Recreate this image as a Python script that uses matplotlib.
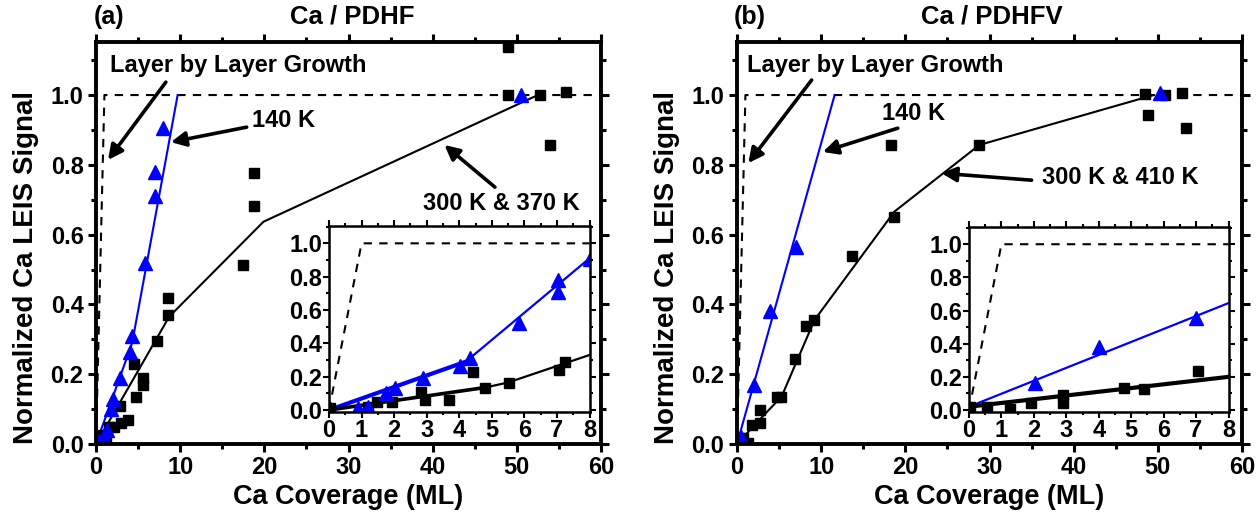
import matplotlib
matplotlib.use("Agg")
import matplotlib.pyplot as plt
from matplotlib.ticker import MultipleLocator, FormatStrFormatter

plt.rcParams["font.family"] = ["Liberation Sans", "DejaVu Sans"]
plt.rcParams["font.weight"] = "bold"

BLUE = "#0000ff"

# ---------------- Ca / PDHF ----------------
a_tri_x = [0.3, 0.9, 1.3, 1.74, 2.0, 2.9, 4.0, 4.3, 5.8, 7.0, 7.0, 8.0, 50.5]
a_tri_y = [0.01, 0.02, 0.04, 0.10, 0.13, 0.19, 0.265, 0.31, 0.52, 0.71, 0.78, 0.905, 1.0]
a_sq_x = [0.1, 0.8, 1.2, 1.5, 2.1, 2.9, 3.0, 3.8, 4.5, 4.8, 5.6, 5.6, 7.3, 8.6, 8.6,
          17.5, 18.8, 18.8, 48.9, 48.9, 52.7, 53.9, 55.9]
a_sq_y = [0.01, 0.025, 0.02, 0.05, 0.05, 0.11, 0.06, 0.07, 0.23, 0.134, 0.19, 0.168, 0.295,
          0.418, 0.37, 0.513, 0.682, 0.777, 1.0, 1.138, 1.0, 0.857, 1.01]
a_fit140_x = [0.0, 4.3, 9.7]
a_fit140_y = [0.0, 0.29, 1.0]
a_fitrt_x = [0.0, 8.7, 19.9, 52.5]
a_fitrt_y = [0.0, 0.365, 0.637, 1.0]

# inset of Ca / PDHF (0-8 ML)
ai_tri_x = [0.9, 1.2, 1.74, 2.02, 2.89, 4.02, 4.33, 5.82, 7.02, 7.02, 8.0]
ai_tri_y = [0.01, 0.02, 0.104, 0.13, 0.19, 0.264, 0.31, 0.52, 0.71, 0.78, 0.904]
ai_sq_x = [0.02, 1.2, 1.46, 1.95, 2.84, 2.94, 3.69, 4.41, 4.79, 5.54, 7.05, 7.25]
ai_sq_y = [0.01, 0.02, 0.05, 0.046, 0.11, 0.06, 0.06, 0.226, 0.134, 0.164, 0.24, 0.29]
ai_fit140_x = [0.0, 4.2, 8.0]
ai_fit140_y = [0.0, 0.29, 0.91]
ai_fitrt_x = [0.0, 4.8, 5.5, 8.0]
ai_fitrt_y = [0.0, 0.135, 0.165, 0.33]

# ---------------- Ca / PDHFV ----------------
b_tri_x = [0.5, 2.0, 3.9, 7.0, 50.2]
b_tri_y = [0.02, 0.169, 0.382, 0.565, 1.007]
b_sq_x = [0.3, 0.7, 1.26, 1.75, 2.7, 2.7, 4.7, 5.2, 6.9, 8.2, 9.2, 13.7, 18.65, 18.25,
          28.8, 48.5, 48.85, 50.8, 52.9, 53.4]
b_sq_y = [0.016, 0.017, 0.004, 0.054, 0.06, 0.097, 0.136, 0.136, 0.243, 0.338, 0.355,
          0.539, 0.651, 0.857, 0.857, 1.003, 0.943, 1.0, 1.005, 0.905]
b_fit140_x = [0.0, 11.6]
b_fit140_y = [0.0, 1.0]
b_fitrt_x = [0.0, 2.7, 5.3, 9.2, 18.7, 28.8, 49.5]
b_fitrt_y = [0.0, 0.07, 0.136, 0.355, 0.666, 0.857, 1.0]

# inset of Ca / PDHFV (0-8 ML)
bi_tri_x = [2.03, 4.02, 7.0]
bi_tri_y = [0.165, 0.378, 0.558]
bi_sq_x = [0.02, 0.54, 1.26, 1.9, 2.9, 2.9, 4.79, 5.4, 7.07]
bi_sq_y = [0.02, 0.016, 0.004, 0.044, 0.044, 0.09, 0.13, 0.125, 0.235]
bi_fit140_x = [0.0, 8.0]
bi_fit140_y = [0.02, 0.645]
bi_fitrt_x = [0.0, 8.0]
bi_fitrt_y = [0.02, 0.2]

# ideal layer-by-layer growth
lbl_x = [0.0, 1.0, 60.0]
lbl_y = [0.0, 1.0, 1.0]
lbl_inset_x = [0.0, 1.0, 8.0]
lbl_inset_y = [0.0, 1.0, 1.0]

W, H = 1260, 513
fig = plt.figure(figsize=(W / 100, H / 100), dpi=100)


def px_axes(x0, y0, x1, y1):
    return fig.add_axes([x0 / W, 1 - y1 / H, (x1 - x0) / W, (y1 - y0) / H])


def style_main(ax):
    ax.set_xlim(0, 60)
    ax.set_ylim(0, 1.152)
    ax.xaxis.set_major_locator(MultipleLocator(10))
    ax.xaxis.set_minor_locator(MultipleLocator(5))
    ax.yaxis.set_major_locator(MultipleLocator(0.2))
    ax.yaxis.set_minor_locator(MultipleLocator(0.1))
    ax.yaxis.set_major_formatter(FormatStrFormatter("%.1f"))
    for s in ax.spines.values():
        s.set_linewidth(2.8)
    ax.tick_params(which="both", direction="out", top=True, right=True,
                   labelsize=17, width=2.2, pad=3)
    ax.tick_params(which="major", length=6)
    ax.tick_params(which="minor", length=3.5)
    ax.set_xlabel("Ca Coverage (ML)", fontsize=19.5, fontweight="bold", labelpad=3)
    ax.set_ylabel("Normalized Ca LEIS Signal", fontsize=20, fontweight="bold")
    ax.yaxis.set_label_coords(-0.113, 0.44)


def style_inset(ax):
    ax.set_xlim(0, 8)
    ax.set_ylim(-0.012, 1.104)
    ax.xaxis.set_major_locator(MultipleLocator(1))
    ax.xaxis.set_minor_locator(MultipleLocator(0.5))
    ax.yaxis.set_major_locator(MultipleLocator(0.2))
    ax.yaxis.set_minor_locator(MultipleLocator(0.1))
    ax.yaxis.set_major_formatter(FormatStrFormatter("%.1f"))
    for s in ax.spines.values():
        s.set_linewidth(1.8)
    ax.tick_params(which="both", direction="out", labelsize=17, width=1.5, pad=1)
    ax.tick_params(which="both", top=True, right=True)
    ax.tick_params(which="major", length=4)
    ax.tick_params(which="minor", length=2.5)


def draw_main(ax, tx, ty, sx, sy, fx1, fy1, fx2, fy2):
    ax.plot(lbl_x, lbl_y, color="k", lw=1.5, ls=(0, (4, 3.5)))
    ax.plot(fx1, fy1, color=BLUE, lw=1.5)
    ax.plot(fx2, fy2, color="k", lw=1.5)
    ax.plot(sx, sy, ls="none", marker="s", ms=7.5, color="k")
    ax.plot(tx, ty, ls="none", marker="^", ms=10, color=BLUE)


arrow = dict(arrowstyle="-|>", color="k", lw=2.6, mutation_scale=22, shrinkA=0, shrinkB=0)
ann_kw = dict(fontsize=17, fontweight="bold", va="center", ha="left")

# ---- panel (a) ----
axa = px_axes(96, 42, 601, 444)
style_main(axa)
draw_main(axa, a_tri_x, a_tri_y, a_sq_x, a_sq_y, a_fit140_x, a_fit140_y, a_fitrt_x, a_fitrt_y)
axa.text(1.7, 1.086, "Layer by Layer Growth", **ann_kw)
axa.annotate("", xy=(1.43, 0.814), xytext=(8.3, 1.037), arrowprops=arrow)
axa.text(18.5, 0.928, "140 K", **ann_kw)
axa.annotate("", xy=(8.9, 0.865), xytext=(17.9, 0.908), arrowprops=arrow)
axa.text(38.8, 0.69, "300 K & 370 K", **ann_kw)
axa.annotate("", xy=(41.4, 0.857), xytext=(47.4, 0.736), arrowprops=arrow)
fig.text(94 / W, 1 - 17 / H, "(a)", fontsize=18, fontweight="bold", ha="left", va="center")
fig.text(352 / W, 1 - 17 / H, "Ca / PDHF", fontsize=18.5, fontweight="bold", ha="center", va="center")

ina = px_axes(329, 226, 589.5, 412)
style_inset(ina)
ina.plot(lbl_inset_x, lbl_inset_y, color="k", lw=1.5, ls=(0, (4, 3.5)))
ina.plot(ai_fit140_x[:2], ai_fit140_y[:2], color=BLUE, lw=3)
ina.plot(ai_fit140_x[1:], ai_fit140_y[1:], color=BLUE, lw=1.6)
ina.plot(ai_fitrt_x[:2], ai_fitrt_y[:2], color="k", lw=2.6)
ina.plot(ai_fitrt_x[1:], ai_fitrt_y[1:], color="k", lw=1.6)
ina.plot(ai_sq_x, ai_sq_y, ls="none", marker="s", ms=7.5, color="k")
ina.plot(ai_tri_x, ai_tri_y, ls="none", marker="^", ms=10, color=BLUE)

# ---- panel (b) ----
axb = px_axes(737, 42, 1242, 444)
style_main(axb)
draw_main(axb, b_tri_x, b_tri_y, b_sq_x, b_sq_y, b_fit140_x, b_fit140_y, b_fitrt_x, b_fitrt_y)
axb.text(1.2, 1.086, "Layer by Layer Growth", **ann_kw)
axb.annotate("", xy=(1.34, 0.805), xytext=(8.87, 1.043), arrowprops=arrow)
axb.text(17.2, 0.948, "140 K", **ann_kw)
axb.annotate("", xy=(10.2, 0.837), xytext=(19.1, 0.905), arrowprops=arrow)
axb.text(36.2, 0.765, "300 K & 410 K", **ann_kw)
axb.annotate("", xy=(24.3, 0.776), xytext=(35.0, 0.756), arrowprops=arrow)
fig.text(734 / W, 1 - 17 / H, "(b)", fontsize=18, fontweight="bold", ha="left", va="center")
fig.text(992 / W, 1 - 17 / H, "Ca / PDHFV", fontsize=18.5, fontweight="bold", ha="center", va="center")

inb = px_axes(969, 227, 1228.5, 412)
style_inset(inb)
inb.plot(lbl_inset_x, lbl_inset_y, color="k", lw=1.5, ls=(0, (4, 3.5)))
inb.plot(bi_fit140_x, bi_fit140_y, color=BLUE, lw=1.6)
inb.plot(bi_fitrt_x, bi_fitrt_y, color="k", lw=3)
inb.plot(bi_sq_x, bi_sq_y, ls="none", marker="s", ms=7.5, color="k")
inb.plot(bi_tri_x, bi_tri_y, ls="none", marker="^", ms=10, color=BLUE)

fig.savefig("out.png", dpi=100)
